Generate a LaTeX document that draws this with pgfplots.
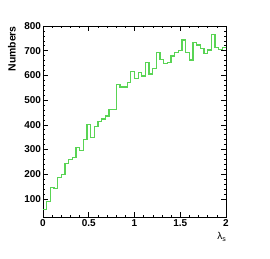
\documentclass[border=0pt]{standalone}
\usepackage{pgfplots}
\pgfplotsset{compat=1.18}
\usepackage{fontspec}
\setmainfont{Liberation Sans}
\definecolor{rootgreen}{RGB}{89,212,84}
\begin{document}
\begin{tikzpicture}[x=1bp,y=1bp]
\begin{axis}[
  at={(0,0)}, anchor=south west,
  scale only axis, width=183bp, height=191bp,
  xmin=0, xmax=2, ymin=27, ymax=800,
  xtick={0,0.5,1,1.5,2},
  xticklabels={0,0.5,1,1.5,2},
  minor x tick num=4,
  ytick={100,200,300,400,500,600,700,800},
  minor y tick num=4,
  tick align=inside,
  major tick length=5bp, minor tick length=2.5bp,
  every tick/.style={black, line width=0.6pt},
  axis line style={black, line width=0.8pt},
  /pgf/number format/assume math mode=true,
  tick label style={font=\fontsize{10}{11}\selectfont\bfseries},
  xticklabel style={yshift=1bp},
  yticklabel style={xshift=1.5bp},
  scaled ticks=false,
  clip=true,
]
\addplot[const plot mark left, rootgreen, line width=1.3pt] coordinates {
(0.00,57) (0.04,90) (0.08,147) (0.12,142) (0.16,186) (0.20,200) (0.24,244) (0.28,261) (0.32,267) (0.36,309)
(0.40,297) (0.44,342) (0.48,400) (0.52,350) (0.56,394) (0.60,413) (0.64,424) (0.68,436) (0.72,463) (0.76,463)
(0.80,564) (0.84,553) (0.88,553) (0.92,572) (0.96,615) (1.00,588) (1.04,611) (1.08,598) (1.12,651) (1.16,606)
(1.20,629) (1.24,694) (1.28,665) (1.32,649) (1.36,653) (1.40,679) (1.44,694) (1.48,700) (1.52,743) (1.56,694)
(1.60,662) (1.64,732) (1.68,723) (1.72,710) (1.76,690) (1.80,703) (1.84,766) (1.88,714) (1.92,706) (1.96,714)
(2.00,714)
};
\end{axis}
\node[rotate=90, anchor=south east, font=\fontsize{10.5}{11}\selectfont\bfseries, inner sep=0pt] at (-27bp,191bp) {Numbers};
\node[anchor=north east, font=\fontsize{10}{11}\selectfont, inner sep=0pt] at (183bp,-15bp) {λ\raisebox{-2bp}{\fontsize{7}{8}\selectfont s}};
\path (-43bp,-42bp) rectangle (227bp,217bp);
\end{tikzpicture}
\end{document}
